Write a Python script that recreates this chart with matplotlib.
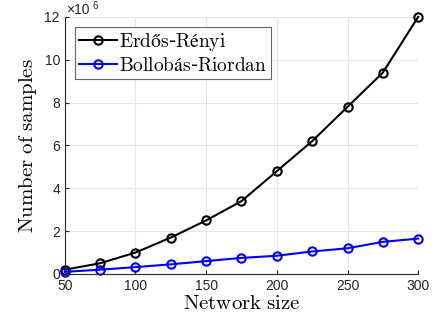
import numpy as np
import matplotlib
matplotlib.use("Agg")
import matplotlib.pyplot as plt

plt.rcParams['mathtext.fontset'] = 'cm'

network_size = [50, 75, 100, 125, 150, 175, 200, 225, 250, 275, 300]
erdos_renyi = [0.2, 0.5, 1.0, 1.7, 2.5, 3.4, 4.8, 6.2, 7.8, 9.4, 12.0]
bollobas_riordan = [0.1, 0.2, 0.32, 0.45, 0.6, 0.75, 0.85, 1.05, 1.2, 1.5, 1.65]
scale = 1e6

fig = plt.figure(figsize=(4.32, 3.25), dpi=100)
ax = fig.add_axes([0.150, 0.157, 0.818, 0.791])

er = np.array(erdos_renyi) * scale
br = np.array(bollobas_riordan) * scale

ax.plot(network_size, er, color='black', lw=1.5, marker='o', ms=6,
        mfc='none', mew=1.5, clip_on=False,
        label=r'$\mathrm{Erdős}$-$\mathrm{Rényi}$')
ax.plot(network_size, br, color='blue', lw=1.5, marker='o', ms=6,
        mfc='none', mew=1.5, clip_on=False,
        label=r'$\mathrm{Bollobás}$-$\mathrm{Riordan}$')

ax.set_xlim(50, 300)
ax.set_ylim(0, 12e6)
ax.set_xticks([50, 100, 150, 200, 250, 300])
ax.set_yticks(np.arange(0, 13, 2) * scale)
ax.set_yticklabels([str(v) for v in range(0, 13, 2)])

ax.grid(True, color='#e6e6e6', lw=0.8)
ax.set_axisbelow(True)
for s in ['top', 'right']:
    ax.spines[s].set_visible(False)
for s in ['left', 'bottom']:
    ax.spines[s].set_color('#262626')
    ax.spines[s].set_linewidth(0.8)
ax.tick_params(direction='in', length=3, labelsize=10, colors='#262626',
               labelfontfamily='Liberation Sans')

ax.set_xlabel(r'$\mathrm{Network\ size}$', fontsize=15, labelpad=0)
ax.set_ylabel(r'$\mathrm{Number\ of\ samples}$', fontsize=15, labelpad=4)

# MATLAB style exponent label
ax.annotate('×10', xy=(0, 1), xycoords='axes fraction', xytext=(1, 0),
            textcoords='offset points', fontsize=10, va='bottom', ha='left',
            color='#262626', family='Liberation Sans')
ax.annotate('6', xy=(0, 1), xycoords='axes fraction', xytext=(20, 4.5),
            textcoords='offset points', fontsize=7, va='bottom', ha='left',
            color='#262626', family='Liberation Sans')

leg = ax.legend(loc='upper left', bbox_to_anchor=(0.028, 0.96), fontsize=14,
                fancybox=False, edgecolor='#666666', framealpha=1,
                handlelength=2.0, handletextpad=0.1, borderpad=0.2,
                labelspacing=0.15, borderaxespad=0)
leg.get_frame().set_linewidth(0.8)

fig.savefig('out.png', dpi=100)
